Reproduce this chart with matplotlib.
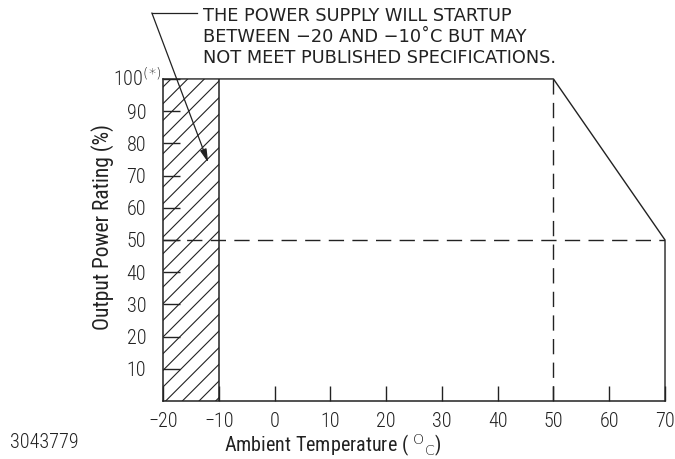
import numpy as np
import matplotlib
matplotlib.use("Agg")
import matplotlib.pyplot as plt

plt.rcParams['font.family'] = ['Roboto Condensed', 'Liberation Sans Narrow',
                               'DejaVu Sans']
plt.rcParams['font.weight'] = 'light'
plt.rcParams['hatch.linewidth'] = 0.8

# derating curve
temp = [-20, 50, 70, 70]
rating = [100, 100, 50, 0]
# startup-only range (hatched)
startup_temp = [-20, -10]
knee_temp = 50
knee_rating = 50

xticks = np.arange(-20, 71, 10)
yticks = np.arange(10, 101, 10)
ylabels = [str(v) for v in yticks[:-1]] + ['']

ink = '#222222'
fig = plt.figure(figsize=(6.75, 4.59), dpi=100)
ax = fig.add_axes([0.2415, 0.1264, 0.7437, 0.7016])

ax.fill_between(startup_temp, 0, 100, facecolor='none', edgecolor=ink,
                hatch='//', linewidth=0)
ax.axvline(startup_temp[1], color=ink, lw=1.1)
ax.plot(temp, rating, color=ink, lw=1.0, clip_on=False)
ax.axvline(knee_temp, color=ink, lw=1.0, linestyle=(0, (11, 6)))
ax.axhline(knee_rating, color=ink, lw=1.0, linestyle=(0, (11, 6)))

ax.set_xlim(-20, 70)
ax.set_ylim(0, 100)
for s in ['top', 'right']:
    ax.spines[s].set_visible(False)
for s in ['left', 'bottom']:
    ax.spines[s].set_color(ink)
    ax.spines[s].set_linewidth(1.1)

ax.set_xticks(xticks)
ax.set_xticklabels([str(v).replace('-', '\u2212') for v in xticks])
ax.set_yticks(yticks)
ax.set_yticklabels(ylabels)
ax.tick_params(axis='x', direction='in', length=10.8, width=1.0, pad=8,
               labelsize=14.5, colors=ink)
ax.tick_params(axis='y', direction='in', length=12.2, width=1.0, pad=12,
               labelsize=14.5, colors=ink)

# top label with footnote mark
ax.annotate('100$^{(*)}$', xy=(-20, 100), xytext=(-1, 0),
            textcoords='offset points', ha='right', va='center',
            fontsize=14.5, color=ink, annotation_clip=False)

ax.set_xlabel('Ambient Temperature ( $^{\\mathrm{O}}$$_{\\mathrm{C}}$)',
              fontsize=14.5, color=ink)
ax.xaxis.set_label_coords(0.339, -0.098)
ax.set_ylabel('Output Power Rating (%)', fontsize=15.5, color=ink)
ax.yaxis.set_label_coords(-0.098, 0.54)

fig.text(0.015, 0.025, '3043779', fontsize=14.5, color=ink)

note = ('THE POWER SUPPLY WILL STARTUP\n'
        'BETWEEN \u221220 AND \u221210\u02daC BUT MAY\n'
        'NOT MEET PUBLISHED SPECIFICATIONS.')
fig.text(203 / 675, 1 - 7 / 459, note, fontsize=12.8, family='DejaVu Sans',
         fontweight='normal', va='top', ha='left', linespacing=1.2, color=ink)

# leader line with arrow
ax.annotate('', xy=(-11.9, 74), xytext=(-22, 120.5),
            arrowprops=dict(arrowstyle='-|>,head_length=0.8,head_width=0.2',
                            color=ink, lw=0.9, shrinkA=0, shrinkB=0),
            annotation_clip=False)
ax.plot([-22, -13.9], [120.5, 120.5], color=ink, lw=0.9, clip_on=False)

fig.savefig('out.png', dpi=100)
